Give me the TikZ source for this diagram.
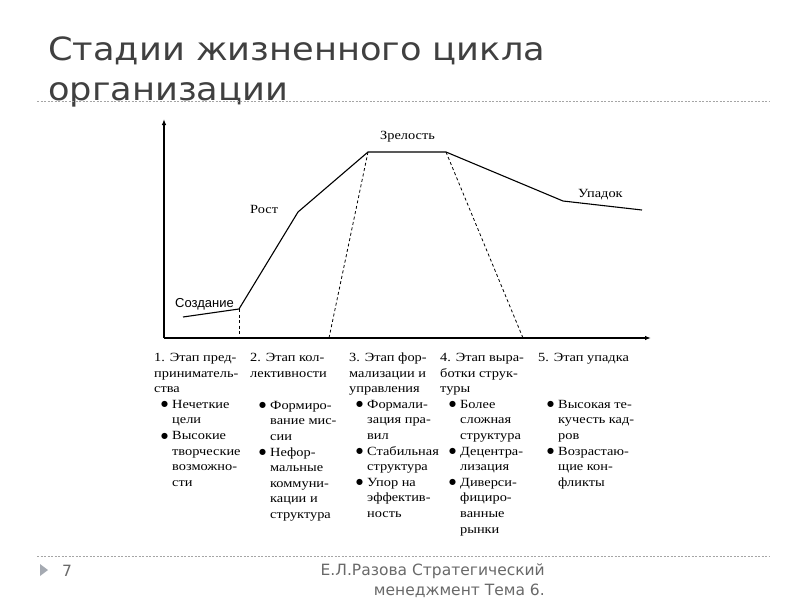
\documentclass[tikz,border=0pt]{standalone}
\usepackage{fontspec}
\setmainfont{Liberation Serif}
\newfontfamily\colfont[FakeStretch=1.15]{Liberation Serif}
\newfontfamily\titlefont[FakeStretch=1.1]{DejaVu Sans}
\newfontfamily\footfont{DejaVu Sans}
\newfontfamily\bulfont{DejaVu Sans}
\newfontfamily\labsans{Liberation Sans}
\usetikzlibrary{arrows.meta}
\definecolor{titlegray}{RGB}{64,64,64}
\definecolor{footgray}{RGB}{105,105,105}
\definecolor{rulegray}{RGB}{165,165,165}
\definecolor{trigray}{RGB}{165,170,178}
\newcommand\bu{\makebox[11pt][l]{\raisebox{1.4pt}{\bulfont\fontsize{8}{8}\selectfont ●}}}
\newcommand\co{\hspace*{11pt}}
\newcommand\colbox[1]{\parbox[t]{110pt}{\raggedright #1}}
\begin{document}
\begin{tikzpicture}[x=1pt,y=-1pt,
  title/.style={font=\titlefont\fontsize{32}{40}\selectfont, text=titlegray, inner sep=0pt},
  coltxt/.style={font=\colfont\fontsize{12.5}{15.6}\selectfont, inner sep=0pt},
  lab/.style={font=\colfont\fontsize{12.5}{15}\selectfont, inner sep=0pt},
  labs/.style={font=\labsans\fontsize{13}{15}\selectfont, inner sep=0pt},
  foot/.style={font=\footfont\fontsize{15.5}{19}\selectfont, text=footgray, inner sep=0pt},
  axis/.style={line width=1.3pt, -{Latex[length=6pt,width=4.5pt]}},
  curve/.style={line width=1.1pt, line join=round},
  guide/.style={line width=0.8pt, dash pattern=on 3pt off 2.5pt},
  rule/.style={rulegray, line width=0.8pt, dash pattern=on 2pt off 1.5pt}]
\useasboundingbox[fill=white] (0,0) rectangle (800,600);

% title
\node[title, anchor=base west] (t1) at (48,60) {Стадии жизненного цикла};
\node[title, anchor=base west] (t2) at (48,100) {организации};
\coordinate (r1a) at (37,101);
\coordinate (r1b) at (770,101);
\draw[rule] (r1a) -- (r1b);

% axes
\coordinate (o) at (164,338);
\coordinate (ytop) at (164,119);
\coordinate (xend) at (651,338);
\draw[axis] (o) -- (ytop);
\draw[axis] (o) -- (xend);

% curve
\coordinate (A) at (183,317);
\coordinate (B) at (239,309);
\coordinate (C) at (298,212);
\coordinate (D) at (368,152);
\coordinate (E) at (446,152);
\coordinate (F) at (563,201);
\coordinate (G) at (642,210);
\draw[curve] (A) -- (B) -- (C) -- (D) -- (E) -- (F) -- (G);

\coordinate (B0) at (239,338);
\coordinate (D0) at (329,338);
\coordinate (E0) at (523,338);
\draw[guide] (B) -- (B0);
\draw[guide] (D) -- (D0);
\draw[guide] (E) -- (E0);

% stage labels
\node[labs, anchor=base west] (lc) at (175,307) {Создание};
\node[lab, anchor=base west] (lr) at (250,213) {Рост};
\node[lab, anchor=base west] (lz) at (380,139.5) {Зрелость};
\node[lab, anchor=base west] (lu) at (578,197.5) {Упадок};

% column headers
\node[coltxt, anchor=base west] (h1) at (154,361.5) {\colbox{1. Этап пред-\\приниматель-\\ства}};
\node[coltxt, anchor=base west] (h2) at (250,361.5) {\colbox{2. Этап кол-\\лективности}};
\node[coltxt, anchor=base west] (h3) at (349,361.5) {\colbox{3. Этап фор-\\мализации и\\управления}};
\node[coltxt, anchor=base west] (h4) at (440,361.5) {\colbox{4. Этап выра-\\ботки струк-\\туры}};
\node[coltxt, anchor=base west] (h5) at (538,361.5) {\colbox{5. Этап упадка}};

% column lists
\node[coltxt, anchor=base west] (b1) at (161,408.3) {\colbox{\bu Нечеткие\\\co цели\\\bu Высокие\\\co творческие\\\co возможно-\\\co сти}};
\node[coltxt, anchor=base west] (b2) at (259,409.3) {\colbox{\bu Формиро-\\\co вание мис-\\\co сии\\\bu Нефор-\\\co мальные\\\co коммуни-\\\co кации и\\\co структура}};
\node[coltxt, anchor=base west] (b3) at (356,408.3) {\colbox{\bu Формали-\\\co зация пра-\\\co вил\\\bu Стабильная\\\co структура\\\bu Упор на\\\co эффектив-\\\co ность}};
\node[coltxt, anchor=base west] (b4) at (449,408.3) {\colbox{\bu Более\\\co сложная\\\co структура\\\bu Децентра-\\\co лизация\\\bu Диверси-\\\co фициро-\\\co ванные\\\co рынки}};
\node[coltxt, anchor=base west] (b5) at (547,408.3) {\colbox{\bu Высокая те-\\\co кучесть кад-\\\co ров\\\bu Возрастаю-\\\co щие кон-\\\co фликты}};

% footer
\coordinate (r2a) at (37,556);
\coordinate (r2b) at (770,556);
\draw[rule] (r2a) -- (r2b);
\fill[trigray] (40,564) -- (48,570) -- (40,576) -- cycle;
\node[foot, anchor=base west] (pg) at (62,576) {7};
\node[foot, anchor=base east] (f1) at (545,575) {Е.Л.Разова Стратегический};
\node[foot, anchor=base east] (f2) at (545,595) {менеджмент Тема 6.};
\end{tikzpicture}
\end{document}
